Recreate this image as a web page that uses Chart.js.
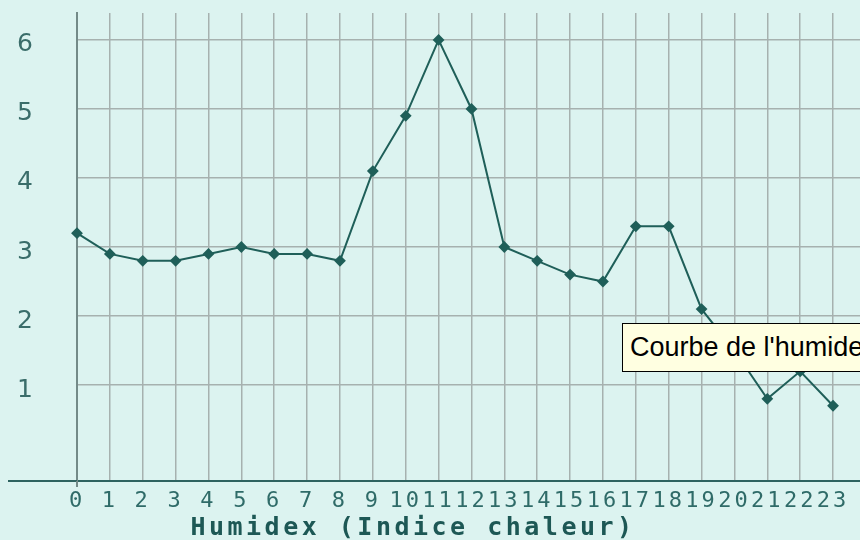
<!DOCTYPE html>
<html>
<head>
<meta charset="utf-8">
<script src="https://cdn.jsdelivr.net/npm/chart.js@4.4.0/dist/chart.umd.min.js"></script>
<style>
html, body { margin: 0; padding: 0; background: #dcf3f0; overflow: hidden; }
#wrap { position: relative; width: 860px; height: 540px; overflow: hidden; }
#hint {
    position: absolute; left: 622px; top: 323px; width: 270px; height: 49px;
    box-sizing: border-box; padding-left: 7px;
    background: #ffffe1; border: 1px solid #000; color: #000;
    font: 27px "Liberation Sans", sans-serif; line-height: 47px; white-space: nowrap;
}
</style>
</head>
<body>
<div id="wrap">
<canvas id="humidex_chart" width="860" height="540"></canvas>
<div id="hint">Courbe de l'humidex</div>
</div>
<script>
var hours = [0, 1, 2, 3, 4, 5, 6, 7, 8, 9, 10, 11, 12, 13, 14, 15, 16, 17, 18, 19, 20, 21, 22, 23];
var humidex = [3.2, 2.9, 2.8, 2.8, 2.9, 3.0, 2.9, 2.9, 2.8, 4.1, 4.9, 6.0, 5.0, 3.0, 2.8, 2.6, 2.5, 3.3, 3.3, 2.1, 1.5, 0.8, 1.2, 0.7];
var y_ticks = [1, 2, 3, 4, 5, 6];
var x_title = "Humidex (Indice chaleur)";

var teal = "#1f5f59";

// axis line running past the y axis, and the axis title
var decor = {
    id: "decor",
    beforeDraw: function(c) {
        c.ctx.letterSpacing = "3px";
    },
    afterDraw: function(c) {
        var ctx = c.ctx, a = c.chartArea;
        ctx.save();
        ctx.lineWidth = 2;
        ctx.strokeStyle = "#2e6360";
        ctx.beginPath();
        ctx.moveTo(8, a.bottom);
        ctx.lineTo(a.left, a.bottom);
        ctx.stroke();
        ctx.strokeStyle = "#738a88";
        ctx.beginPath();
        ctx.moveTo(a.left, a.bottom);
        ctx.lineTo(a.left, a.bottom + 6);
        ctx.stroke();
        ctx.letterSpacing = "3.5px";
        ctx.font = "bold 25px 'DejaVu Sans Mono'";
        ctx.fillStyle = "#1d5855";
        ctx.textAlign = "center";
        ctx.textBaseline = "middle";
        ctx.fillText(x_title, 413, 528);
        ctx.restore();
    }
};

var chart = new Chart(document.getElementById("humidex_chart").getContext("2d"), {
    type: "line",
    data: {
        datasets: [{
            label: "Humidex",
            data: hours.map(function(h, i) { return {x: h, y: humidex[i]}; }),
            borderColor: teal,
            borderWidth: 2,
            pointStyle: "rectRot",
            pointRadius: 4.5,
            pointBackgroundColor: teal,
            pointBorderColor: teal,
            tension: 0,
            clip: false
        }]
    },
    options: {
        responsive: false,
        animation: false,
        layout: { autoPadding: false, padding: { top: 13, left: 17, right: 0, bottom: 0 } },
        plugins: {
            legend: { display: false },
            tooltip: { enabled: false }
        },
        scales: {
            x: {
                type: "linear",
                min: 0,
                max: 23.82,
                afterBuildTicks: function(s) { s.ticks = hours.map(function(v) { return {value: v}; }); },
                afterFit: function(s) {
                    s.height = 59;
                    s.paddingLeft = 0;
                    s.paddingRight = 0;
                },
                grid: { color: "#a6b1af", lineWidth: 1.5, drawTicks: false },
                border: { color: "#2e6360", width: 2 },
                ticks: {
                    font: { family: "DejaVu Sans Mono", size: 22 },
                    color: "#2f6b68",
                    padding: 7,
                    maxRotation: 0,
                    autoSkip: false
                }
            },
            y: {
                min: -0.39,
                max: 6.39,
                afterBuildTicks: function(s) { s.ticks = y_ticks.map(function(v) { return {value: v}; }); },
                afterFit: function(s) {
                    s.width = 60;
                    s.paddingTop = 0;
                    s.paddingBottom = 0;
                },
                grid: { color: "#a6b1af", lineWidth: 1.5, drawTicks: false },
                border: { color: "#738a88", width: 2 },
                ticks: {
                    font: { family: "DejaVu Sans", size: 25, lineHeight: 1 },
                    color: "#3a6d6a",
                    padding: 0,
                    crossAlign: "far",
                    labelOffset: 5
                }
            }
        }
    },
    plugins: [decor]
});
</script>
</body>
</html>
